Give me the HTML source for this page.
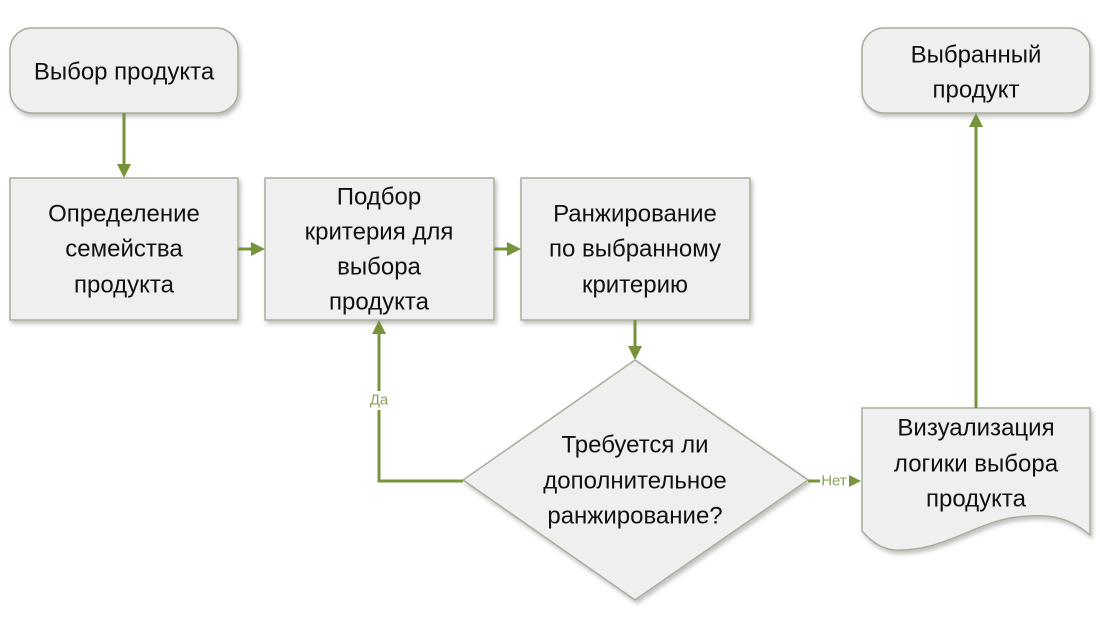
<!DOCTYPE html>
<html><head><meta charset="utf-8"><style>
html,body{margin:0;padding:0;background:#fff;}
svg{display:block;}
text{font-family:"Liberation Sans","DejaVu Sans",sans-serif;font-size:24px;fill:#111;text-anchor:middle;dominant-baseline:central;}
.s{fill:#efefef;stroke:#a8ad9b;stroke-width:1.5;}
.l{stroke:#77933c;stroke-width:3;fill:none;}
.a{fill:#77933c;}
.lab{font-size:15px;fill:#8aa35a;}
</style></head><body>
<svg width="1100" height="625" viewBox="0 0 1100 625">
<defs><filter id="sh" x="-10%" y="-10%" width="130%" height="130%"><feDropShadow dx="2" dy="3" stdDeviation="2" flood-color="#000" flood-opacity="0.25"/></filter></defs>
<g filter="url(#sh)">
<rect class="s" x="10" y="28" width="228" height="85" rx="22"/>
<rect class="s" x="862" y="28" width="228" height="85" rx="22"/>
<rect class="s" x="10" y="178" width="228" height="142"/>
<rect class="s" x="265" y="178" width="229" height="142"/>
<rect class="s" x="521" y="178" width="229" height="142"/>
<polygon class="s" points="635,360 808,480 635,600 463,480"/>
<path class="s" d="M862,408 H1090 V535 C1070,518 1050,512 1010,518 C970,526 940,552 895,550 C880,549 870,540 862,531 Z"/>
</g>
<text x="124" y="72">Выбор продукта</text>
<text x="976" y="55">Выбранный</text><text x="976" y="90">продукт</text>
<text x="124" y="214">Определение</text><text x="124" y="249">семейства</text><text x="124" y="285">продукта</text>
<text x="379" y="197">Подбор</text><text x="379" y="232">критерия для</text><text x="379" y="267">выбора</text><text x="379" y="302">продукта</text>
<text x="635" y="214">Ранжирование</text><text x="635" y="249">по выбранному</text><text x="635" y="285">критерию</text>
<text x="635" y="445">Требуется ли</text><text x="635" y="481">дополнительное</text><text x="635" y="516">ранжирование?</text>
<text x="976" y="428">Визуализация</text><text x="976" y="464">логики выбора</text><text x="976" y="499">продукта</text>
<line class="l" x1="124" y1="113" x2="124" y2="165"/><polygon class="a" points="117,164 131,164 124,178"/>
<line class="l" x1="238" y1="249" x2="252" y2="249"/><polygon class="a" points="251,242 265,249 251,256"/>
<line class="l" x1="494" y1="249" x2="508" y2="249"/><polygon class="a" points="507,242 521,249 507,256"/>
<line class="l" x1="635" y1="320" x2="635" y2="347"/><polygon class="a" points="628,346 642,346 635,360"/>
<polyline class="l" points="463,481 379,481 379,410"/><line class="l" x1="379" y1="391" x2="379" y2="333"/>
<polygon class="a" points="372,334 386,334 379,320"/>
<text class="lab" x="379" y="400">Да</text>
<line class="l" x1="808" y1="481" x2="820" y2="481"/>
<text class="lab" x="834" y="481">Нет</text>
<polygon class="a" points="849,475 861,481 849,487"/>
<line class="l" x1="976" y1="408" x2="976" y2="126"/><polygon class="a" points="969,127 983,127 976,113"/>
</svg>
</body></html>
